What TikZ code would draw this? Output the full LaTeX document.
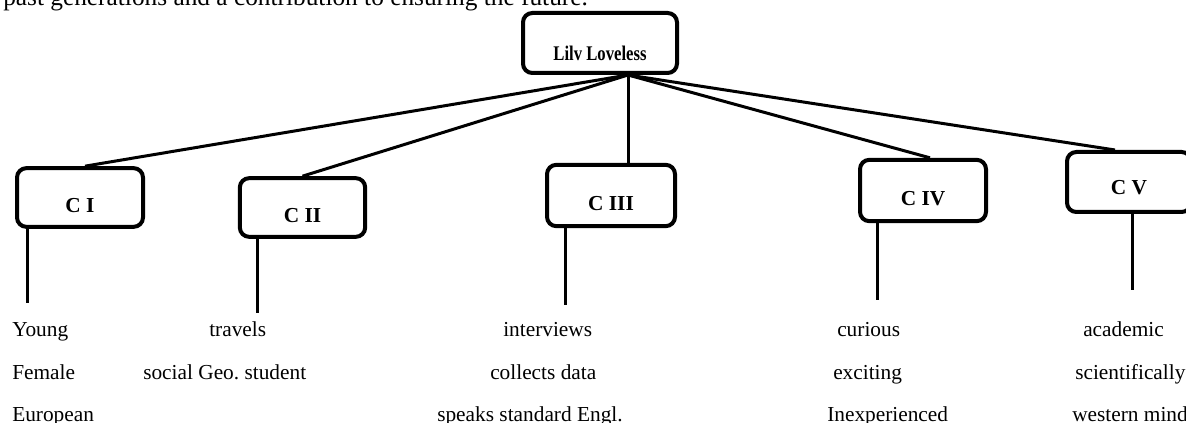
\documentclass[tikz,border=0pt]{standalone}
\usepackage{fontspec}
\setmainfont{Liberation Serif}
\newcommand\boxtxt[1]{\raisebox{-6pt}[\height][\depth]{#1}}
\begin{document}
\begin{tikzpicture}[x=0.75pt,y=-0.75pt,
  cbox/.style={draw=black,line width=3pt,rounded corners=7pt,inner sep=0pt,
    font=\fontsize{16}{19}\selectfont\bfseries},
  conn/.style={draw=black,line width=2.25pt},
  item/.style={anchor=base west,inner sep=0pt,font=\fontsize{16}{19}\selectfont}]
\useasboundingbox (0,0) rectangle (1186,423);
\clip (0,0) rectangle (1186,423);
\frenchspacing
% partial text at top
\node[item,font=\fontsize{19}{22}\selectfont] (top) at (3,6) {past generations and a contribution to ensuring the future.};
% boxes
\node[cbox,minimum width=115.5pt,minimum height=45pt,font=\fontsize{12.5}{15}\selectfont\bfseries] (lilv) at (600,43) {\raisebox{-7.5pt}[\height][\depth]{\scalebox{1}[1.25]{Lilv Loveless}}};
\node[cbox,minimum width=94.5pt,minimum height=44pt] (c1) at (80,197.5) {\boxtxt{C I}};
\node[cbox,minimum width=94pt,minimum height=44pt] (c2) at (302.5,207.5) {\boxtxt{C II}};
\node[cbox,minimum width=96pt,minimum height=46pt] (c3) at (611,195.5) {\boxtxt{C III}};
\node[cbox,minimum width=94.5pt,minimum height=46pt] (c4) at (923,190.5) {\boxtxt{C IV}};
\node[cbox,minimum width=93pt,minimum height=45pt] (c5) at (1129,182) {\raisebox{-4.5pt}[\height][\depth]{C V}};
% hub
\coordinate (hub) at (628,75);
\draw[conn] (hub) -- ([xshift=3.75pt]c1.north);
\draw[conn] (hub) -- (c2.north);
\draw[conn] (hub) -- (hub |- c3.north);
\draw[conn] (hub) -- ([xshift=5.25pt]c4.north);
\draw[conn] (hub) -- ([xshift=-10.5pt]c5.north);
% lower legs
\coordinate (e1) at (27,303);
\coordinate (e2) at (257,313);
\coordinate (e3) at (565,305);
\coordinate (e4) at (877,300);
\coordinate (e5) at (1132,290);
\draw[conn] (c1.south -| e1) -- (e1);
\draw[conn] (c2.south -| e2) -- (e2);
\draw[conn] (c3.south -| e3) -- (e3);
\draw[conn] (c4.south -| e4) -- (e4);
\draw[conn] (c5.south -| e5) -- (e5);
% items
\node[item] (t11) at (12,337) {Young};
\node[item] (t12) at (12,380) {Female};
\node[item] (t13) at (12,422) {European};
\node[item] (t21) at (209,337) {travels};
\node[item] (t22) at (143,380) {social Geo. student};
\node[item] (t31) at (503,337) {interviews};
\node[item] (t32) at (490,380) {collects data};
\node[item] (t33) at (437,422) {speaks standard Engl.};
\node[item] (t41) at (837,337) {curious};
\node[item] (t42) at (833,380) {exciting};
\node[item] (t43) at (827,422) {Inexperienced};
\node[item] (t51) at (1083,337) {academic};
\node[item] (t52) at (1075,380) {scientifically};
\node[item] (t53) at (1072,422) {western mind};
\end{tikzpicture}
\end{document}
